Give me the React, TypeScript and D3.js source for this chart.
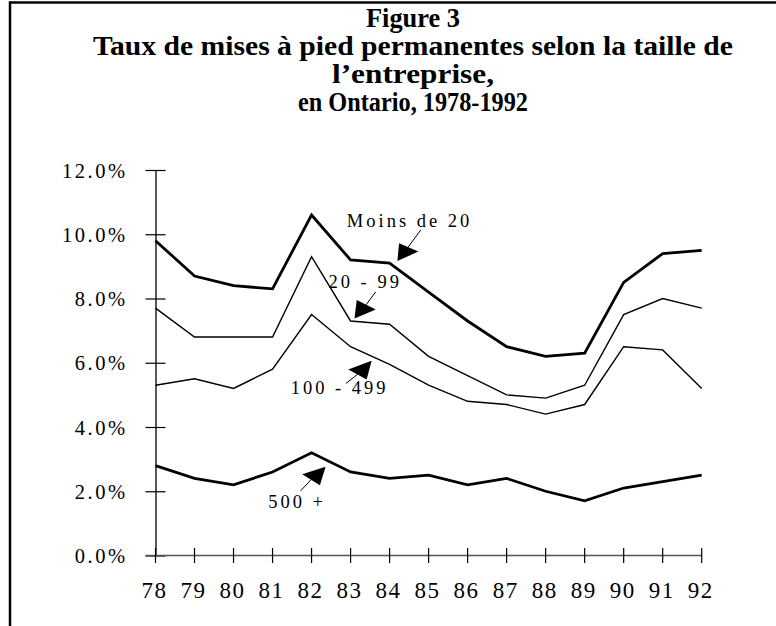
import React, { useEffect, useRef } from 'react';
import * as d3 from 'd3';

const years = [78, 79, 80, 81, 82, 83, 84, 85, 86, 87, 88, 89, 90, 91, 92];
const yTicks = [0, 2, 4, 6, 8, 10, 12];

const moins20 = [9.8, 8.7, 8.4, 8.3, 10.6, 9.2, 9.1, 8.2, 7.3, 6.5, 6.2, 6.3, 8.5, 9.4, 9.5];
const de20a99 = [7.7, 6.8, 6.8, 6.8, 9.3, 7.3, 7.2, 6.2, 5.6, 5.0, 4.9, 5.3, 7.5, 8.0, 7.7];
const de100a499 = [5.3, 5.5, 5.2, 5.8, 7.5, 6.5, 5.95, 5.3, 4.8, 4.7, 4.4, 4.7, 6.5, 6.4, 5.2];
const plus500 = [2.8, 2.4, 2.2, 2.6, 3.2, 2.6, 2.4, 2.5, 2.2, 2.4, 2.0, 1.7, 2.1, 2.3, 2.5];

const titleLines = [
  'Figure 3',
  'Taux de mises à pied permanentes selon la taille de',
  'l’entreprise,',
  'en Ontario, 1978-1992',
];
const titleWidths = [94, 640, 162, 230];

const series = [
  { name: 'Moins de 20', values: moins20, width: 2.8 },
  { name: '20 - 99', values: de20a99, width: 1.4 },
  { name: '100 - 499', values: de100a499, width: 1.4 },
  { name: '500 +', values: plus500, width: 2.8 },
];

// arrow tip in data units, then triangle / shaft / label offsets in px
const notes = [
  { label: 'Moins de 20', year: 84.2, value: 9.17, tri: [[1.7, -17.7], [21, -9.3]], shaft: [10.5, -13.5, 23.4, -31], text: [-50.6, -33.7] },
  { label: '20 - 99', year: 83.1, value: 7.38, tri: [[2.3, -18.3], [21.3, -9]], shaft: [11.5, -13.5, 21.3, -26.6], text: [-26, -30] },
  { label: '100 - 499', year: 83.54, value: 6.06, tri: [[-23.4, 8.6], [-5, 18.6]], shaft: [-14, 13.5, -25.7, 22.6], text: [-81, 33.6] },
  { label: '500 +', year: 82.36, value: 2.76, tri: [[-23.4, 7.3], [-5.7, 18.3]], shaft: [-14.5, 12.8, -25, 24], text: [-57.4, 41.6] },
];

const App = () => {
  const ref = useRef<SVGSVGElement>(null);

  useEffect(() => {
    const width = 776;
    const height = 626;
    const font = '"Liberation Serif", "Times New Roman", serif';
    const svg = d3.select(ref.current);
    svg.selectAll('*').remove();
    svg.attr('width', width).attr('height', height);

    const x = d3.scaleLinear().domain([78, 92]).range([155.5, 701.7]);
    const y = d3.scaleLinear().domain([0, 12]).range([555.5, 170]);

    // frame
    svg.append('line').attr('x1', 10).attr('x2', width).attr('y1', 2.5).attr('y2', 2.5)
      .attr('stroke', '#000').attr('stroke-width', 2.5);
    svg.append('line').attr('x1', 10).attr('x2', 10).attr('y1', 1.3).attr('y2', height)
      .attr('stroke', '#000').attr('stroke-width', 2.5);

    // title
    svg.append('g')
      .selectAll('text')
      .data(titleLines)
      .join('text')
      .attr('x', 413)
      .attr('y', (d, i) => 27 + i * 28)
      .attr('text-anchor', 'middle')
      .attr('font-family', font)
      .attr('font-weight', 'bold')
      .attr('font-size', 28)
      .attr('textLength', (d, i) => titleWidths[i])
      .attr('lengthAdjust', 'spacingAndGlyphs')
      .text(d => d);

    // y axis
    const yAxis = svg.append('g').attr('transform', 'translate(155.5,0)')
      .call(d3.axisLeft(y).tickValues(yTicks).tickSize(0).tickFormat(() => ''));
    yAxis.select('.domain').attr('stroke', '#000').attr('stroke-width', 1.3);
    yAxis.selectAll('.tick line').remove();
    yAxis.selectAll('.tick').append('line')
      .attr('x1', -10).attr('x2', 10).attr('stroke', '#000').attr('stroke-width', 1.2);
    yAxis.selectAll('.tick text').remove();
    yAxis.selectAll('.tick').append('text')
      .attr('x', -28).attr('dy', 7)
      .attr('text-anchor', 'end')
      .attr('fill', '#000')
      .attr('font-family', font)
      .attr('font-size', 20.5)
      .attr('letter-spacing', 2.5)
      .text((d: any) => d.toFixed(1) + '%');

    // x axis
    svg.append('line').attr('x1', 145.5).attr('x2', x(92)).attr('y1', y(0)).attr('y2', y(0))
      .attr('stroke', '#555').attr('stroke-width', 1.3);
    const xAxis = svg.append('g').attr('transform', `translate(0,${y(0)})`);
    xAxis.selectAll('line')
      .data(years)
      .join('line')
      .attr('x1', d => x(d)).attr('x2', d => x(d))
      .attr('y1', -7.5).attr('y2', 7.5)
      .attr('stroke', '#000').attr('stroke-width', 1.2);
    xAxis.selectAll('text')
      .data(years)
      .join('text')
      .attr('x', d => x(d) - 1)
      .attr('y', 42)
      .attr('text-anchor', 'middle')
      .attr('font-family', font)
      .attr('font-size', 23)
      .attr('letter-spacing', 1.5)
      .text(d => String(d));

    // lines
    const line = d3.line<number>()
      .x((d, i) => x(years[i]))
      .y(d => y(d));
    svg.append('g')
      .selectAll('path')
      .data(series)
      .join('path')
      .attr('d', d => line(d.values))
      .attr('fill', 'none')
      .attr('stroke', '#000')
      .attr('stroke-width', d => d.width)
      .attr('stroke-linejoin', 'miter');

    // annotations
    const ann = svg.append('g')
      .selectAll('g')
      .data(notes)
      .join('g')
      .attr('transform', d => `translate(${x(d.year)},${y(d.value)})`);
    ann.append('line')
      .attr('x1', d => d.shaft[0]).attr('y1', d => d.shaft[1])
      .attr('x2', d => d.shaft[2]).attr('y2', d => d.shaft[3])
      .attr('stroke', '#000').attr('stroke-width', 1);
    ann.append('path')
      .attr('d', d => `M0,0L${d.tri[0][0]},${d.tri[0][1]}L${d.tri[1][0]},${d.tri[1][1]}Z`)
      .attr('fill', '#000');
    ann.append('text')
      .attr('x', d => d.text[0]).attr('y', d => d.text[1])
      .attr('font-family', font)
      .attr('font-size', 18.5)
      .attr('letter-spacing', 3)
      .text(d => d.label);
  }, []);

  return (
    <div>
      <svg ref={ref} style={{ display: 'block', position: 'absolute', left: 0, top: 0 }}></svg>
    </div>
  );
};

export default App;
